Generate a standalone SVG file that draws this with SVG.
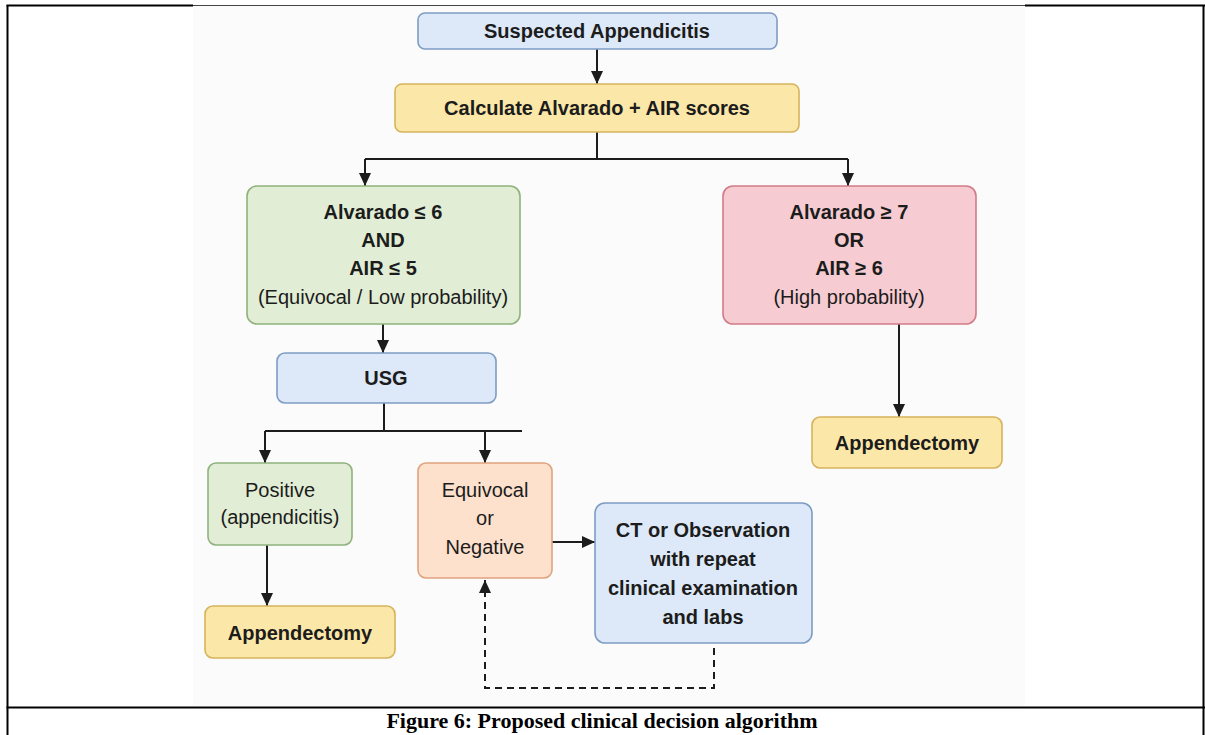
<svg xmlns="http://www.w3.org/2000/svg" width="1205" height="735" viewBox="0 0 1205 735">
<style>
.frame{stroke:#000;stroke-width:2;fill:none}
.box{stroke-width:1.6}
.blue{fill:#dde9f8;stroke:#7e9cc4}
.yellow{fill:#fbe8a8;stroke:#d6b35c}
.green{fill:#e1eed5;stroke:#8fb27c}
.red{fill:#f6ccd2;stroke:#d27b88}
.orange{fill:#fde1cd;stroke:#e0a37e}
text{font-family:"Liberation Sans",Arial,sans-serif;font-size:20px;fill:#1c1c1c;text-anchor:middle}
.b{font-weight:bold}
.cap{font-family:"Liberation Serif","Times New Roman",serif;font-weight:bold;font-size:22px;fill:#000}
.conn{stroke:#1c1c1c;stroke-width:2;fill:none}
.dash{stroke-dasharray:7 5}
</style>
<defs>
<marker id="ah" markerUnits="userSpaceOnUse" markerWidth="14" markerHeight="14" refX="13" refY="7" orient="auto">
<path d="M0,1 L13,7 L0,13 z" fill="#1c1c1c"/>
</marker>
</defs>
<rect x="193" y="6" width="832" height="700" fill="#fbfbfb"/>
<g id="frame">
<line class="frame" x1="7.5" y1="5" x2="7.5" y2="735"/>
<line class="frame" x1="1203.5" y1="5" x2="1203.5" y2="735"/>
<line class="frame" x1="6.5" y1="5.5" x2="193" y2="5.5"/>
<line x1="193" y1="5.5" x2="1025" y2="5.5" stroke="#444" stroke-width="1"/>
<line class="frame" x1="1025" y1="5.5" x2="1205" y2="5.5"/>
<line class="frame" x1="6.5" y1="707.5" x2="1205" y2="707.5"/>
</g>
<g id="connectors">
<path class="conn" d="M597,49 V84" marker-end="url(#ah)"/>
<path class="conn" d="M597,132 V159 M365,159 H848"/>
<path class="conn" d="M365,159 V186" marker-end="url(#ah)"/>
<path class="conn" d="M848,159 V186" marker-end="url(#ah)"/>
<path class="conn" d="M383,324 V353" marker-end="url(#ah)"/>
<path class="conn" d="M384,403 V431 M265,431 H522"/>
<path class="conn" d="M265,431 V463" marker-end="url(#ah)"/>
<path class="conn" d="M485,431 V463" marker-end="url(#ah)"/>
<path class="conn" d="M267,545 V606" marker-end="url(#ah)"/>
<path class="conn" d="M552,542 H595" marker-end="url(#ah)"/>
<path class="conn" d="M899,324 V417" marker-end="url(#ah)"/>
<path class="conn dash" d="M714,648 V688 H485 V580" marker-end="url(#ah)"/>
</g>
<g id="suspected">
<rect class="box blue" x="418" y="13" width="359" height="36" rx="7"/>
<text class="b" x="597" y="38">Suspected Appendicitis</text>
</g>
<g id="calculate">
<rect class="box yellow" x="395" y="84" width="404" height="48" rx="7"/>
<text class="b" x="597" y="115">Calculate Alvarado + AIR scores</text>
</g>
<g id="low">
<rect class="box green" x="247" y="186" width="273" height="138" rx="10"/>
<text class="b" x="383" y="219">Alvarado ≤ 6</text>
<text class="b" x="383" y="247">AND</text>
<text class="b" x="383" y="275">AIR ≤ 5</text>
<text x="383" y="304">(Equivocal / Low probability)</text>
</g>
<g id="high">
<rect class="box red" x="723" y="186" width="253" height="138" rx="10"/>
<text class="b" x="849" y="219">Alvarado ≥ 7</text>
<text class="b" x="849" y="247">OR</text>
<text class="b" x="849" y="275">AIR ≥ 6</text>
<text x="849" y="304">(High probability)</text>
</g>
<g id="usg">
<rect class="box blue" x="277" y="353" width="219" height="50" rx="8"/>
<text class="b" x="386" y="385">USG</text>
</g>
<g id="positive">
<rect class="box green" x="208" y="463" width="144" height="82" rx="8"/>
<text x="280" y="497">Positive</text>
<text x="280" y="524">(appendicitis)</text>
</g>
<g id="appendectomy-left">
<rect class="box yellow" x="205" y="606" width="190" height="52" rx="8"/>
<text class="b" x="300" y="640">Appendectomy</text>
</g>
<g id="equivocal">
<rect class="box orange" x="418" y="463" width="134" height="115" rx="8"/>
<text x="485" y="497">Equivocal</text>
<text x="485" y="525">or</text>
<text x="485" y="554">Negative</text>
</g>
<g id="ct">
<rect class="box blue" x="595" y="503" width="217" height="140" rx="10"/>
<text class="b" x="703" y="537">CT or Observation</text>
<text class="b" x="703" y="566">with repeat</text>
<text class="b" x="703" y="595">clinical examination</text>
<text class="b" x="703" y="624">and labs</text>
</g>
<g id="appendectomy-right">
<rect class="box yellow" x="812" y="417" width="190" height="51" rx="8"/>
<text class="b" x="907" y="450">Appendectomy</text>
</g>
<text class="cap" x="602" y="728">Figure 6: Proposed clinical decision algorithm</text>
</svg>
